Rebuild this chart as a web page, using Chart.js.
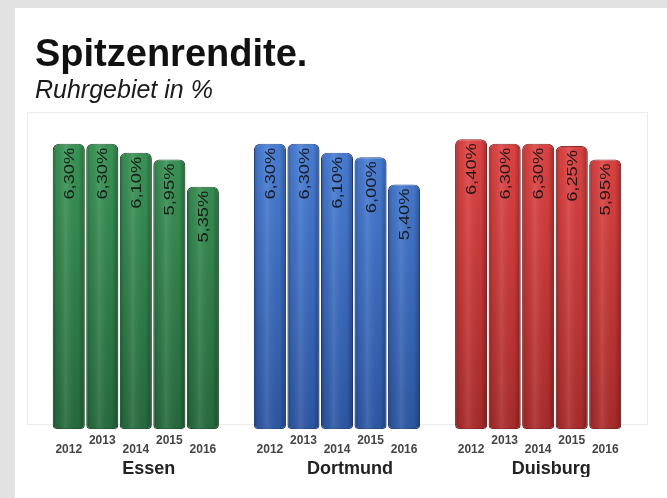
<!DOCTYPE html>
<html>
<head>
<meta charset="utf-8">
<script src="https://cdn.jsdelivr.net/npm/chart.js@4"></script>
<style>
    html, body { margin: 0; padding: 0; }
    body { width: 667px; height: 498px; background: #e2e2e2; overflow: hidden; font-family: "Liberation Sans", Arial, sans-serif; }
    #panel { position: absolute; left: 15px; top: 8px; width: 652px; height: 490px; background: #fff; }
    #title { position: absolute; left: 20px; top: 26px; margin: 0; font-size: 38px; line-height: 1; font-weight: bold; color: #111; }
    #subtitle { position: absolute; left: 20px; top: 69px; margin: 0; font-size: 25px; line-height: 1; font-style: italic; color: #1a1a1a; }
    #wrap { position: absolute; left: 0; top: 0; width: 652px; height: 490px; }
</style>
</head>
<body>
<div id="panel">
    <div id="wrap"><canvas id="chart1"></canvas></div>
    <h1 id="title">Spitzenrendite.</h1>
    <p id="subtitle">Ruhrgebiet in %</p>
</div>
<script>
var years = ['2012', '2013', '2014', '2015', '2016'];
var cities = ['Essen', 'Dortmund', 'Duisburg'];
var essen = [6.30, 6.30, 6.10, 5.95, 5.35];
var dortmund = [6.30, 6.30, 6.10, 6.00, 5.40];
var duisburg = [6.40, 6.30, 6.30, 6.25, 5.95];

// 5 bars per city plus one empty slot between the cities
var slotsPerGroup = years.length + 1;
var slotCount = cities.length * slotsPerGroup - 1;

// year labels alternate up/down, the second line pushes a label down
var yearLabels = [];
var cityLabels = [];
var n = 0;
for (var i = 0; i < slotCount; i++) {
    var g = Math.floor(i / slotsPerGroup);
    var k = i % slotsPerGroup;
    if (k < years.length) {
        yearLabels.push(n % 2 == (g == 1 ? 0 : 1) ? [years[k]] : ['', years[k]]);
        n++;
    } else {
        yearLabels.push('');
    }
    cityLabels.push(k == 2 ? cities[g] : '');
}

function spread(values, group) {
    var out = [];
    for (var i = 0; i < slotCount; i++) {
        var k = i - group * slotsPerGroup;
        out.push(k >= 0 && k < values.length ? values[k] : null);
    }
    return out;
}

function vertical(top, bottom) {
    return function (context) {
        var area = context.chart.chartArea;
        if (!area) return bottom;
        var grad = context.chart.ctx.createLinearGradient(0, area.top, 0, area.bottom);
        grad.addColorStop(0, top);
        grad.addColorStop(1, bottom);
        return grad;
    };
}

function fmt(v) {
    return v.toFixed(2).replace('.', ',') + '%';
}

// light frame round the plot
var frame = {
    id: 'frame',
    beforeDatasetsDraw: function (chart) {
        var a = chart.chartArea;
        var ctx = chart.ctx;
        ctx.save();
        ctx.strokeStyle = '#ebebeb';
        ctx.lineWidth = 1;
        ctx.strokeRect(a.left - 24.5, a.top + 0.5, a.right - a.left + 50, a.bottom - a.top - 5);
        ctx.restore();
    }
};

// round shading on every bar, then the value written upwards inside it
var barText = {
    id: 'barText',
    afterDatasetsDraw: function (chart) {
        var ctx = chart.ctx;
        chart.data.datasets.forEach(function (ds, di) {
            chart.getDatasetMeta(di).data.forEach(function (bar, idx) {
                var v = ds.data[idx];
                if (v == null) return;
                var p = bar.getProps(['x', 'y', 'base', 'width'], true);
                var left = p.x - p.width / 2;
                ctx.save();
                ctx.beginPath();
                ctx.roundRect(left, p.y, p.width, p.base - p.y, [6, 6, 4, 4]);
                ctx.clip();
                var sh = ctx.createLinearGradient(left, 0, left + p.width, 0);
                sh.addColorStop(0, 'rgba(0,0,0,0.28)');
                sh.addColorStop(0.12, 'rgba(0,0,0,0.05)');
                sh.addColorStop(0.4, 'rgba(255,255,255,0.10)');
                sh.addColorStop(0.8, 'rgba(0,0,0,0.02)');
                sh.addColorStop(1, 'rgba(0,0,0,0.30)');
                ctx.fillStyle = sh;
                ctx.fillRect(left, p.y, p.width, p.base - p.y);
                ctx.restore();

                ctx.save();
                ctx.translate(p.x, p.y + 4);
                ctx.rotate(-Math.PI / 2);
                ctx.scale(1.22, 1);
                ctx.font = '15px "Liberation Sans", Arial, sans-serif';
                ctx.textAlign = 'right';
                ctx.textBaseline = 'middle';
                ctx.fillStyle = 'rgba(10,10,10,0.85)';
                ctx.fillText(fmt(v), 0, 1);
                ctx.restore();
            });
        });
    }
};

var ctxChart1 = document.getElementById('chart1').getContext('2d');
var chart1 = new Chart(ctxChart1, {
    type: 'bar',
    plugins: [frame, barText],
    data: {
        labels: yearLabels,
        datasets: [{
            label: cities[0],
            data: spread(essen, 0),
            backgroundColor: vertical('#3d9a5a', '#266a3d'),
            borderColor: '#1f5a33'
        }, {
            label: cities[1],
            data: spread(dortmund, 1),
            backgroundColor: vertical('#4c83dc', '#2d57a4'),
            borderColor: '#264c90'
        }, {
            label: cities[2],
            data: spread(duisburg, 2),
            backgroundColor: vertical('#e64646', '#aa2b2b'),
            borderColor: '#8f2222'
        }]
    },
    options: {
        responsive: true,
        maintainAspectRatio: false,
        animation: false,
        grouped: false,
        barPercentage: 1,
        categoryPercentage: 0.955,
        borderWidth: 1,
        borderSkipped: false,
        borderRadius: { topLeft: 6, topRight: 6, bottomLeft: 4, bottomRight: 4 },
        layout: {
            padding: { top: 104, left: 37, right: 45, bottom: 21 }
        },
        plugins: {
            legend: { display: false },
            title: { display: false },
            tooltip: { enabled: false }
        },
        scales: {
            y: {
                display: false,
                min: 0,
                max: 7
            },
            x: {
                weight: 0,
                grid: { display: false, drawTicks: false },
                border: { display: false },
                ticks: {
                    autoSkip: false,
                    maxRotation: 0,
                    padding: 7,
                    color: '#444',
                    font: { family: '"Liberation Sans", Arial, sans-serif', size: 12, weight: 'bold', lineHeight: 0.75 }
                }
            },
            x2: {
                type: 'category',
                position: 'bottom',
                weight: 1,
                labels: cityLabels,
                offset: true,
                grid: { display: false, drawTicks: false },
                border: { display: false },
                ticks: {
                    autoSkip: false,
                    maxRotation: 0,
                    padding: -1,
                    labelOffset: 13,
                    color: '#222',
                    font: { family: '"Liberation Sans", Arial, sans-serif', size: 18, weight: 'bold', lineHeight: 1 }
                }
            }
        }
    }
});
</script>
</body>
</html>
